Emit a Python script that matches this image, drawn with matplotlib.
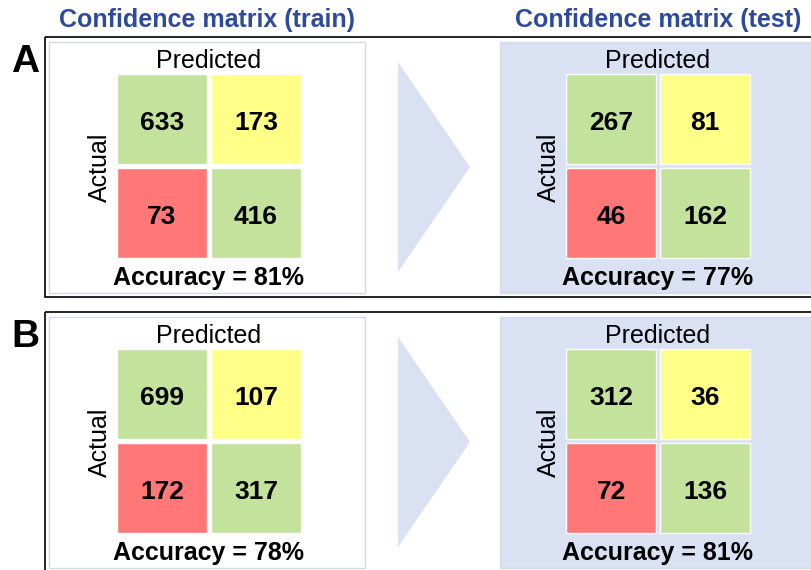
import matplotlib.pyplot as plt
from matplotlib.patches import Rectangle, Polygon

plt.rcParams['font.family'] = ['Liberation Sans', 'DejaVu Sans']

# confusion matrices, rows = actual, cols = predicted
train_A = [[633, 173], [73, 416]]
test_A = [[267, 81], [46, 162]]
train_B = [[699, 107], [172, 317]]
test_B = [[312, 36], [72, 136]]
acc_A = [81, 77]
acc_B = [78, 81]
panel_labels = ["A", "B"]
titles = ["Confidence matrix (train)", "Confidence matrix (test)"]

green = "#C3E29B"
yellow = "#FFFF88"
red = "#FF7777"
pale = "#D9E1F2"
title_col = "#2E4A9A"
cell_cols = [[green, yellow], [red, green]]

W, H = 812, 570
fig = plt.figure(figsize=(W / 100, H / 100), dpi=100)
ax = fig.add_axes([0, 0, 1, 1])
ax.set_xlim(0, W)
ax.set_ylim(H, 0)
ax.axis("off")


def sub_axes(x0, y0, x1, y1):
    # pixel box -> figure fraction axes
    a = fig.add_axes([x0 / W, 1 - y1 / H, (x1 - x0) / W, (y1 - y0) / H])
    a.set_xlim(0, 2)
    a.set_ylim(2, 0)
    a.axis("off")
    return a


def draw_matrix(mat, x0, y0):
    a = sub_axes(x0, y0, x0 + 188, y0 + 188)
    g = 0.05
    for i in range(2):
        for j in range(2):
            a.add_patch(Rectangle((j + g / 2, i + g / 2), 1 - g, 1 - g,
                                  facecolor=cell_cols[i][j], edgecolor="white", lw=1))
            a.text(j + 0.5, i + 0.54, str(mat[i][j]), ha="center", va="center",
                   fontsize=19, fontweight="bold", color="black")


def draw_panel(dy, label, mats, accs):
    # outer frame
    ax.add_patch(Rectangle((45, 37 + dy), 800, 260, facecolor="none",
                           edgecolor="black", lw=1.2))
    ax.text(25, 62 + dy, label, ha="center", va="center", fontsize=28,
            fontweight="bold")
    # train box (white) and test box (pale blue)
    ax.add_patch(Rectangle((49, 42 + dy), 316, 251, facecolor="white",
                           edgecolor="#D3DBEA", lw=1))
    ax.add_patch(Rectangle((500, 42 + dy), 330, 251, facecolor=pale,
                           edgecolor="#D3DBEA", lw=1))
    # arrow
    ax.add_patch(Polygon([(398, 62 + dy), (470, 167 + dy), (398, 272 + dy)],
                         closed=True, facecolor=pale, edgecolor="none"))
    for k, cx in enumerate([209, 658]):
        draw_matrix(mats[k], cx - 94, 72 + dy)
        ax.text(cx, 61 + dy, "Predicted", ha="center", va="center", fontsize=18)
        ax.text(cx - 109, 167 + dy, "Actual", ha="center", va="center",
                fontsize=18, rotation=90)
        ax.text(cx, 278 + dy, "Accuracy = %d%%" % accs[k], ha="center",
                va="center", fontsize=18, fontweight="bold")


draw_panel(0, panel_labels[0], [train_A, test_A], acc_A)
draw_panel(275, panel_labels[1], [train_B, test_B], acc_B)

ax.text(207, 20, titles[0], ha="center", va="center", fontsize=18,
        fontweight="bold", color=title_col)
ax.text(658, 20, titles[1], ha="center", va="center", fontsize=18,
        fontweight="bold", color=title_col)

fig.savefig("out.png", dpi=100)
